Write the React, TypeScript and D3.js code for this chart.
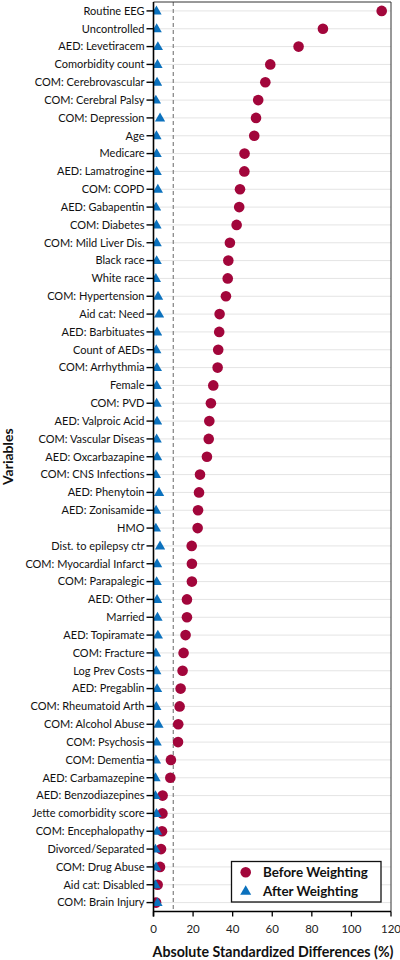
import React from "react";
import * as d3 from "d3";

const variables: string[] = [
  "Routine EEG", "Uncontrolled", "AED: Levetiracem", "Comorbidity count",
  "COM: Cerebrovascular", "COM: Cerebral Palsy", "COM: Depression", "Age",
  "Medicare", "AED: Lamatrogine", "COM: COPD", "AED: Gabapentin",
  "COM: Diabetes", "COM: Mild Liver Dis.", "Black race", "White race",
  "COM: Hypertension", "Aid cat: Need", "AED: Barbituates", "Count of AEDs",
  "COM: Arrhythmia", "Female", "COM: PVD", "AED: Valproic Acid",
  "COM: Vascular Diseas", "AED: Oxcarbazapine", "COM: CNS Infections", "AED: Phenytoin",
  "AED: Zonisamide", "HMO", "Dist. to epilepsy ctr", "COM: Myocardial Infarct",
  "COM: Parapalegic", "AED: Other", "Married", "AED: Topiramate",
  "COM: Fracture", "Log Prev Costs", "AED: Pregablin", "COM: Rheumatoid Arth",
  "COM: Alcohol Abuse", "COM: Psychosis", "COM: Dementia", "AED: Carbamazepine",
  "AED: Benzodiazepines", "Jette comorbidity score", "COM: Encephalopathy", "Divorced/Separated",
  "COM: Drug Abuse", "Aid cat: Disabled", "COM: Brain Injury",
];

const beforeWeighting: number[] = [
  115.3, 85.6, 73.3, 59.0,
  56.5, 52.9, 51.8, 50.9,
  46.0, 45.9, 43.7, 43.3,
  42.0, 38.6, 37.8, 37.5,
  36.6, 33.4, 33.2, 32.7,
  32.4, 30.2, 29.0, 28.2,
  27.9, 27.0, 23.5, 23.0,
  22.5, 22.3, 19.3, 19.4,
  19.4, 16.9, 16.9, 16.2,
  15.2, 14.7, 13.7, 13.2,
  12.5, 12.4, 8.8, 8.5,
  4.6, 4.5, 4.3, 3.8,
  3.3, 2.1, 1.3,
];

const afterWeighting: number[] = [
  1.5, 1.6, 2.2, 2.0,
  1.8, 1.2, 3.3, 1.5,
  1.6, 1.6, 2.2, 1.3,
  1.5, 1.6, 1.6, 1.2,
  2.3, 2.8, 1.8, 1.4,
  1.7, 1.6, 1.6, 1.8,
  1.6, 1.8, 1.2, 2.8,
  1.3, 1.2, 3.3, 1.8,
  1.6, 1.8, 2.0, 2.2,
  1.2, 1.4, 1.8, 1.4,
  2.5, 1.6, 1.2, 1.0,
  1.0, 1.5, 1.8, 1.0,
  1.3, 1.0, 2.0,
];

const xTicks: number[] = [0, 20, 40, 60, 80, 100, 120];
const threshold = 10;
const xTitle = "Absolute Standardized Differences (%)";
const yTitle = "Variables";
const legendLabels = ["Before Weighting", "After Weighting"];

const W = 400;
const H = 960;
const left = 153.5;
const right = 391;
const top = 2;
const bottom = 911.5;

const RED = "#A2063B";
const BLUE = "#0B71BD";
const FONT = "Lato, 'Open Sans', sans-serif";

export default function App() {
  const x = d3.scaleLinear().domain([0, 120]).range([left, right]);
  const y = d3.scaleBand<string>().domain(variables).range([top, bottom]);
  const yc = (v: string) => (y(v) as number) + y.bandwidth() / 2;
  const tri = d3.symbol().type(d3.symbolTriangle).size(46)();
  const triLeg = d3.symbol().type(d3.symbolTriangle).size(52)();

  return (
    <div style={{ position: "fixed", left: 0, top: 0 }}>
      <svg width={W} height={H} style={{ display: "block", background: "#fff" }} fontFamily={FONT}>
        <defs>
          <clipPath id="plotClip">
            <rect x={left} y={top} width={right - left} height={bottom - top} />
          </clipPath>
        </defs>
        {variables.map((v) => (
          <line key={"g" + v} x1={left} x2={right} y1={yc(v)} y2={yc(v)} stroke="#e4e4e4" strokeWidth={1} />
        ))}
        <line x1={x(threshold)} x2={x(threshold)} y1={top} y2={bottom} stroke="#8a8a8a" strokeWidth={1.3} strokeDasharray="4,3" />
        <line x1={left} x2={right} y1={top} y2={top} stroke="#333" strokeWidth={1} />
        <line x1={right} x2={right} y1={top} y2={bottom} stroke="#333" strokeWidth={1} />
        <g clipPath="url(#plotClip)">
          {variables.map((v, i) => (
            <circle key={"b" + v} cx={x(beforeWeighting[i])} cy={yc(v)} r={5.3} fill={RED} />
          ))}
          {variables.map((v, i) => (
            <path key={"a" + v} d={tri as string} transform={`translate(${x(afterWeighting[i])},${yc(v) + 0.5})`} fill={BLUE} />
          ))}
        </g>
        <line x1={left} x2={left} y1={top} y2={bottom + 5} stroke="#000" strokeWidth={1.6} />
        {variables.map((v) => (
          <g key={"t" + v}>
            <line x1={left - 7} x2={left} y1={yc(v)} y2={yc(v)} stroke="#000" strokeWidth={1.4} />
            <text x={left - 9} y={yc(v)} dy="0.35em" textAnchor="end" fontSize={11} fill="#111">{v}</text>
          </g>
        ))}
        <line x1={left} x2={right} y1={bottom} y2={bottom} stroke="#000" strokeWidth={1.6} />
        {xTicks.map((t) => (
          <g key={"x" + t}>
            <line x1={x(t)} x2={x(t)} y1={bottom} y2={bottom + 5} stroke="#000" strokeWidth={1.3} />
            <text x={x(t)} y={bottom + 21} textAnchor="middle" fontSize={11.5} fill="#222">{t}</text>
          </g>
        ))}
        <text x={273} y={957} textAnchor="middle" fontSize={14.2} fontWeight="bold" fill="#111">{xTitle}</text>
        <text transform={`translate(13,${(top + bottom) / 2}) rotate(-90)`} textAnchor="middle" fontSize={14} fontWeight="bold" fill="#111">{yTitle}</text>
        <rect x={231.5} y={861.5} width={149.5} height={40.5} fill="#fff" stroke="#111" strokeWidth={1.3} />
        <circle cx={245.7} cy={872.3} r={5.3} fill={RED} />
        <path d={triLeg as string} transform={`translate(245.7,891.5)`} fill={BLUE} />
        <text x={263} y={872.3} dy="0.35em" fontSize={13.4} fontWeight="bold" fill="#111">{legendLabels[0]}</text>
        <text x={263} y={891.5} dy="0.35em" fontSize={13.4} fontWeight="bold" fill="#111">{legendLabels[1]}</text>
      </svg>
    </div>
  );
}
